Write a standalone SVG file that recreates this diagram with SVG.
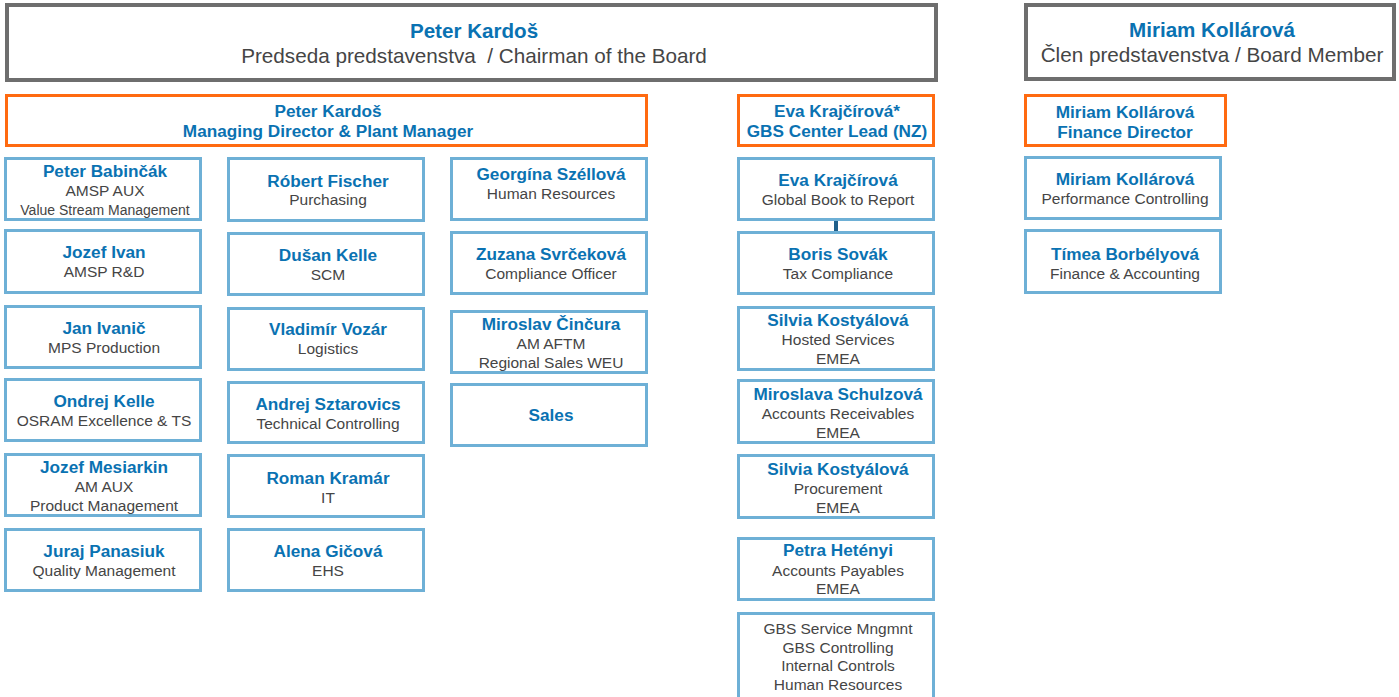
<svg xmlns="http://www.w3.org/2000/svg" width="1399" height="697" viewBox="0 0 1399 697">
<style>
text{font-family:"Liberation Sans",Arial,sans-serif;text-anchor:middle}
.n{font-size:17.2px;font-weight:bold;fill:#0a72b2}
.s{font-size:15.5px;fill:#454545}
.xs{font-size:14px;fill:#454545}
.tn{font-size:20.6px;font-weight:bold;fill:#0a72b2}
.ts{font-size:20.7px;fill:#454545}
.b{fill:#fff;stroke:#6eb0d6;stroke-width:3}
.o{fill:#fff;stroke:#ff6a10;stroke-width:3}
.g{fill:#fff;stroke:#6e6e6e;stroke-width:4}
</style>
<rect width="1399" height="697" fill="#fff"/>
<g id="connectors">
<line x1="836" y1="221" x2="836" y2="232" stroke="#1f5f8a" stroke-width="4"/>
</g>
<g id="chairman"><rect class="g" x="7" y="5" width="929" height="75"/><text class="tn" x="474" y="37.5">Peter Kardoš</text><text class="ts" x="474" y="62.5" xml:space="preserve">Predseda predstavenstva  / Chairman of the Board</text></g>
<g id="boardmember"><rect class="g" x="1026" y="5" width="368" height="74"/><text class="tn" x="1212" y="36.5">Miriam Kollárová</text><text class="ts" x="1212" y="62">Člen predstavenstva / Board Member</text></g>
<g id="md"><rect class="o" x="6.5" y="95.5" width="640" height="50"/><text class="n" x="328" y="117">Peter Kardoš</text><text class="n" x="328" y="137">Managing Director &amp; Plant Manager</text></g>
<g id="gbslead"><rect class="o" x="738.5" y="95.5" width="195" height="50"/><text class="n" x="837" y="117">Eva Krajčírová*</text><text class="n" x="837" y="137">GBS Center Lead (NZ)</text></g>
<g id="findir"><rect class="o" x="1025.5" y="95.5" width="200" height="50"/><text class="n" x="1125" y="118">Miriam Kollárová</text><text class="n" x="1125" y="137.5">Finance Director</text></g>

<g id="babincak"><rect class="b" x="5.5" y="158.5" width="195" height="61"/><text class="n" x="105" y="177">Peter Babinčák</text><text class="s" x="105" y="196">AMSP AUX</text><text class="xs" x="105" y="215">Value Stream Management</text></g>
<g id="ivan"><rect class="b" x="5.5" y="230.5" width="195" height="62"/><text class="n" x="104" y="258">Jozef Ivan</text><text class="s" x="104" y="277">AMSP R&amp;D</text></g>
<g id="ivanic"><rect class="b" x="5.5" y="306.5" width="195" height="61"/><text class="n" x="104" y="333.5">Jan Ivanič</text><text class="s" x="104" y="352.5">MPS Production</text></g>
<g id="okelle"><rect class="b" x="5.5" y="379.5" width="195" height="61"/><text class="n" x="104" y="406.5">Ondrej Kelle</text><text class="s" x="104" y="425.5">OSRAM Excellence &amp; TS</text></g>
<g id="mesiarkin"><rect class="b" x="5.5" y="454.5" width="195" height="61"/><text class="n" x="104" y="473">Jozef Mesiarkin</text><text class="s" x="104" y="492">AM AUX</text><text class="s" x="104" y="511">Product Management</text></g>
<g id="panasiuk"><rect class="b" x="5.5" y="529.5" width="195" height="61"/><text class="n" x="104" y="556.5">Juraj Panasiuk</text><text class="s" x="104" y="575.5">Quality Management</text></g>

<g id="fischer"><rect class="b" x="228.5" y="158.5" width="195" height="62"/><text class="n" x="328" y="186.5">Róbert Fischer</text><text class="s" x="328" y="205">Purchasing</text></g>
<g id="dkelle"><rect class="b" x="228.5" y="233.5" width="195" height="61"/><text class="n" x="328" y="260.5">Dušan Kelle</text><text class="s" x="328" y="280">SCM</text></g>
<g id="vozar"><rect class="b" x="228.5" y="308.5" width="195" height="61"/><text class="n" x="328" y="335">Vladimír Vozár</text><text class="s" x="328" y="354">Logistics</text></g>
<g id="sztarovics"><rect class="b" x="228.5" y="382.5" width="195" height="60"/><text class="n" x="328" y="410">Andrej Sztarovics</text><text class="s" x="328" y="429">Technical Controlling</text></g>
<g id="kramar"><rect class="b" x="228.5" y="455.5" width="195" height="61"/><text class="n" x="328" y="484">Roman Kramár</text><text class="s" x="328" y="502.5">IT</text></g>
<g id="gicova"><rect class="b" x="228.5" y="529.5" width="195" height="61"/><text class="n" x="328" y="557">Alena Gičová</text><text class="s" x="328" y="576">EHS</text></g>

<g id="szellova"><rect class="b" x="451.5" y="158.5" width="195" height="61"/><text class="n" x="551" y="180">Georgína Széllová</text><text class="s" x="551" y="198.5">Human Resources</text></g>
<g id="svrcekova"><rect class="b" x="451.5" y="232.5" width="195" height="61"/><text class="n" x="551" y="260">Zuzana Svrčeková</text><text class="s" x="551" y="279">Compliance Officer</text></g>
<g id="cincura"><rect class="b" x="451.5" y="311.5" width="195" height="61"/><text class="n" x="551" y="330">Miroslav Činčura</text><text class="s" x="551" y="349">AM AFTM</text><text class="s" x="551" y="368">Regional Sales WEU</text></g>
<g id="sales"><rect class="b" x="451.5" y="384.5" width="195" height="61"/><text class="n" x="551" y="420.5">Sales</text></g>

<g id="krajcirova"><rect class="b" x="738.5" y="158.5" width="195" height="61"/><text class="n" x="838" y="186">Eva Krajčírová</text><text class="s" x="838" y="204.5">Global Book to Report</text></g>
<g id="sovak"><rect class="b" x="738.5" y="232.5" width="195" height="61"/><text class="n" x="838" y="259.5">Boris Sovák</text><text class="s" x="838" y="279">Tax Compliance</text></g>
<g id="kostyalova1"><rect class="b" x="738.5" y="307.5" width="195" height="62"/><text class="n" x="838" y="326">Silvia Kostyálová</text><text class="s" x="838" y="345">Hosted Services</text><text class="s" x="838" y="364">EMEA</text></g>
<g id="schulzova"><rect class="b" x="738.5" y="380.5" width="195" height="62"/><text class="n" x="838" y="400">Miroslava Schulzová</text><text class="s" x="838" y="419">Accounts Receivables</text><text class="s" x="838" y="437.5">EMEA</text></g>
<g id="kostyalova2"><rect class="b" x="738.5" y="455.5" width="195" height="62"/><text class="n" x="838" y="475">Silvia Kostyálová</text><text class="s" x="838" y="494">Procurement</text><text class="s" x="838" y="512.5">EMEA</text></g>
<g id="hetenyi"><rect class="b" x="738.5" y="538.5" width="195" height="61"/><text class="n" x="838" y="556">Petra Hetényi</text><text class="s" x="838" y="576">Accounts Payables</text><text class="s" x="838" y="594">EMEA</text></g>
<g id="gbsservices"><rect class="b" x="738.5" y="613.5" width="195" height="100"/><text class="s" x="838" y="633.5">GBS Service Mngmnt</text><text class="s" x="838" y="652.5">GBS Controlling</text><text class="s" x="838" y="671">Internal Controls</text><text class="s" x="838" y="690">Human Resources</text></g>

<g id="kollarova"><rect class="b" x="1025.5" y="157.5" width="195" height="61"/><text class="n" x="1125" y="185">Miriam Kollárová</text><text class="s" x="1125" y="204">Performance Controlling</text></g>
<g id="borbelyova"><rect class="b" x="1025.5" y="230.5" width="195" height="62"/><text class="n" x="1125" y="259.5">Tímea Borbélyová</text><text class="s" x="1125" y="278.5">Finance &amp; Accounting</text></g>
</svg>
